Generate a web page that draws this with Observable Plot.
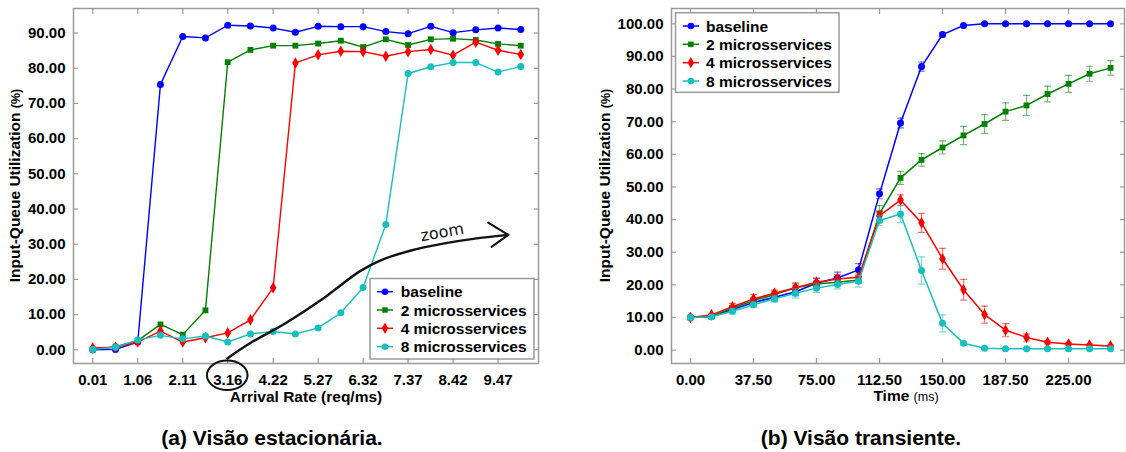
<!DOCTYPE html>
<html>
<head>
<meta charset="utf-8">
<script src="https://cdn.jsdelivr.net/npm/d3@7"></script>
<script src="https://cdn.jsdelivr.net/npm/@observablehq/plot@0.6"></script>
<style>
  body { margin: 0; background: #fff; font-family: "Liberation Sans", Arial, sans-serif; }
  #wrap { position: relative; width: 1126px; height: 452px; overflow: hidden; background: #fff; }
  .panel { position: absolute; top: 0; }
  .cap { position: absolute; top: 426px; font-weight: bold; font-size: 21px; line-height: 24px;
         transform: translateX(-50%); white-space: nowrap; color: #000; }
</style>
</head>
<body>
<div id="wrap">
  <div class="panel" id="left" style="left:0px"></div>
  <div class="panel" id="right" style="left:560px"></div>
  <div class="cap" style="left:272px">(a) Visão estacionária.</div>
  <div class="cap" style="left:861px">(b) Visão transiente.</div>
</div>
<script>
// ---------- shared ----------
const seriesNames = ["baseline", "2 microsservices", "4 microsservices", "8 microsservices"];
const seriesColors = ["#0000ff", "#008000", "#ff0000", "#17bfbf"];
const seriesSymbols = ["circle", "square", "diamond", "circle"];

// ---------- (a) steady state ----------
const arrivalRate = [0.01, 0.54, 1.06, 1.59, 2.11, 2.64, 3.16, 3.69, 4.22, 4.74,
                     5.27, 5.80, 6.32, 6.85, 7.37, 7.90, 8.42, 8.95, 9.47, 10.00];
const rateTickLabels = ["0.01", "1.06", "2.11", "3.16", "4.22", "5.27", "6.32", "7.37", "8.42", "9.47"];
const leftYTicks = [0, 10, 20, 30, 40, 50, 60, 70, 80, 90];

const ssBaseline = [0.0, 0.1, 2.2, 75.4, 89.0, 88.6, 92.2, 92.0, 91.4, 90.2,
                    91.9, 91.8, 91.8, 90.4, 89.8, 91.9, 90.1, 90.9, 91.4, 91.0];
const ss2 = [0.1, 0.9, 2.6, 7.2, 4.3, 11.2, 81.7, 85.2, 86.4, 86.4,
             87.0, 87.8, 86.0, 88.2, 86.6, 88.2, 88.4, 88.0, 86.9, 86.4];
const ss4 = [0.5, 0.7, 2.2, 5.3, 2.2, 3.4, 4.8, 8.5, 17.6, 81.5,
             83.8, 84.8, 84.7, 83.4, 84.7, 85.3, 83.7, 87.4, 85.1, 83.9];
const ss8 = [0.1, 0.7, 2.8, 4.1, 3.1, 3.9, 2.2, 4.5, 5.2, 4.5,
             6.2, 10.5, 17.7, 35.6, 78.5, 80.4, 81.6, 81.6, 78.9, 80.5];

// hand-drawn "zoom" annotation, in (req/ms, %) units
const zoomCurve = [[3.16, -2.6], [3.69, 1.7], [4.52, 7.4], [5.35, 14.0], [6.26, 22.2],
                   [6.73, 25.2], [7.43, 28.0], [8.20, 30.0], [8.98, 31.5], [9.72, 32.5]];
const zoomHead = [[9.25, 36.0], [9.72, 32.5], [9.33, 29.1]];
const zoomLabelAt = [8.18, 33.0];
const zoomCircleTick = 3.16;

// ---------- (b) transient ----------
const timeMs = [0, 12.5, 25, 37.5, 50, 62.5, 75, 87.5, 100, 112.5, 125,
                137.5, 150, 162.5, 175, 187.5, 200, 212.5, 225, 237.5, 250];
const timeTicks = [0, 37.5, 75, 112.5, 150, 187.5, 225];
const rightYTicks = [0, 10, 20, 30, 40, 50, 60, 70, 80, 90, 100];

const trBaseline = [10.0, 10.3, 12.5, 14.6, 16.2, 17.9, 20.5, 22.1, 24.6, 47.9, 69.6,
                    86.9, 96.7, 99.5, 100, 100, 100, 100, 100, 100, 100];
const trBaselineErr = [0.3, 0.4, 0.7, 0.9, 1.0, 1.2, 1.5, 1.8, 1.9, 1.5, 1.5,
                       1.4, 0.7, 0.3, 0.1, 0.1, 0.1, 0.1, 0.1, 0.1, 0.1];
const tr2 = [10.0, 10.3, 12.9, 15.2, 17.0, 19.1, 20.3, 20.8, 21.5, 41.8, 52.8,
             58.3, 62.1, 65.8, 69.3, 73.1, 75.0, 78.5, 81.6, 84.7, 86.5];
const tr2Err = [0.3, 0.5, 0.8, 1.0, 1.0, 1.2, 0.9, 1.0, 1.0, 2.5, 2.0,
                1.9, 2.0, 2.8, 2.9, 2.7, 3.1, 2.4, 2.6, 2.3, 2.2];
const tr4 = [10.0, 10.8, 13.3, 15.7, 17.4, 19.1, 20.8, 21.8, 22.3, 41.2, 46.0,
             39.0, 28.0, 18.5, 10.9, 6.1, 3.9, 2.4, 1.9, 1.6, 1.3];
const tr4Err = [0.3, 0.5, 1.0, 1.4, 1.0, 1.5, 1.3, 1.4, 1.1, 1.5, 1.6,
                2.9, 3.2, 3.2, 2.6, 2.0, 1.1, 0.5, 0.4, 0.3, 0.3];
const tr8 = [10.0, 10.2, 11.9, 13.9, 15.7, 17.4, 19.0, 20.1, 21.1, 39.7, 41.7,
             24.4, 8.2, 2.1, 0.6, 0.4, 0.4, 0.4, 0.4, 0.4, 0.4];
const tr8Err = [0.3, 0.4, 0.8, 0.8, 1.0, 1.4, 1.4, 1.3, 1.8, 1.5, 2.6,
                4.2, 2.6, 0.5, 0.2, 0.2, 0.2, 0.2, 0.2, 0.2, 0.2];

// ---------- helpers ----------
const FONT = "'Liberation Sans', Arial, Helvetica, sans-serif";
const FRAME = "#9a9a9a";
const fmt2 = d => d.toFixed(2);
const capShape = { draw(ctx, l) { ctx.moveTo(-l / 2, 0); ctx.lineTo(l / 2, 0); } };

function innerTicks(xt, yt) {
  const o = { tickSize: -5, tickFormat: () => "", label: null, stroke: FRAME, strokeWidth: 1.2 };
  return [
    Plot.axisX(xt, { anchor: "bottom", ...o }),
    Plot.axisX(xt, { anchor: "top", ...o }),
    Plot.axisY(yt, { anchor: "left", ...o }),
    Plot.axisY(yt, { anchor: "right", ...o })
  ];
}

function seriesMarks(xs, ys, k, opts = {}) {
  const rows = xs.map((x, i) => ({ x, y: ys[i], e: opts.err ? opts.err[i] : 0 }));
  const c = seriesColors[k];
  const marks = [];
  if (opts.err) {
    marks.push(
      Plot.ruleX(rows, { x: "x", y1: d => d.y - d.e, y2: d => d.y + d.e, stroke: c, strokeOpacity: 0.55, strokeWidth: 1.2 }),
      Plot.vector(rows, { x: "x", y: d => d.y + d.e, length: 6, shape: capShape, anchor: "start", stroke: c, strokeOpacity: 0.55, strokeWidth: 1.2 }),
      Plot.vector(rows, { x: "x", y: d => d.y - d.e, length: 6, shape: capShape, anchor: "start", stroke: c, strokeOpacity: 0.55, strokeWidth: 1.2 })
    );
  }
  const sym = seriesSymbols[k];
  marks.push(
    Plot.line(rows, { x: "x", y: "y", stroke: c, strokeWidth: opts.lw || 1.5 }),
    Plot.dot(rows, { x: "x", y: "y", fill: c, stroke: "none", symbol: sym,
                     r: sym === "square" ? 3.3 : sym === "diamond" ? 3.5 : 3.5 })
  );
  return marks;
}

function addYLabel(svg, cx, cy) {
  const t = d3.select(svg).append("text")
    .attr("transform", `translate(${cx},${cy}) rotate(-90)`)
    .attr("text-anchor", "middle").attr("dy", "0.35em")
    .style("font-family", FONT).style("font-weight", "bold").attr("fill", "#000");
  t.append("tspan").attr("font-size", 15.5).text("Input-Queue Utilization ");
  t.append("tspan").attr("font-size", 12.5).text("(%)");
}

function addXLabel(svg, cx, baseline, main, small) {
  const t = d3.select(svg).append("text")
    .attr("x", cx).attr("y", baseline).attr("text-anchor", "middle")
    .style("font-family", FONT).style("font-weight", "bold").attr("fill", "#000");
  t.append("tspan").attr("font-size", 15.5).text(main);
  if (small) t.append("tspan").attr("font-size", 12.5).attr("font-weight", "normal").text(small);
}

function addLegend(svg, box, rowsY, lineX0, lineX1, textX) {
  const g = d3.select(svg).append("g").attr("text-anchor", "start");
  g.append("rect").attr("x", box[0]).attr("y", box[1]).attr("width", box[2]).attr("height", box[3])
    .attr("fill", "#fff").attr("stroke", FRAME).attr("stroke-width", 1.5);
  const d3sym = { circle: d3.symbolCircle, square: d3.symbolSquare, diamond: d3.symbolDiamond };
  seriesNames.forEach((name, k) => {
    const y = rowsY[k];
    g.append("line").attr("x1", lineX0).attr("x2", lineX1).attr("y1", y).attr("y2", y)
      .attr("stroke", seriesColors[k]).attr("stroke-width", 1.5);
    const size = seriesSymbols[k] === "square" ? 30 : seriesSymbols[k] === "diamond" ? 36 : 34;
    g.append("path").attr("transform", `translate(${(lineX0 + lineX1) / 2},${y})`)
      .attr("d", d3.symbol(d3sym[seriesSymbols[k]], size)()).attr("fill", seriesColors[k]);
    g.append("text").attr("x", textX).attr("y", y).attr("dy", "0.36em")
      .attr("text-anchor", "start")
      .style("font-family", FONT).style("font-weight", "bold").style("font-size", "15.5px")
      .attr("fill", "#000").text(name);
  });
}

const baseStyle = { fontFamily: FONT, fontSize: "15px", fontWeight: "bold", color: "#000", background: "transparent" };

// ---------- chart (a) ----------
const rateTicks = rateTickLabels.map(Number);
const leftPlot = Plot.plot({
  width: 560, height: 410,
  marginLeft: 73, marginRight: 22, marginTop: 8, marginBottom: 47,
  style: baseStyle,
  x: { domain: [-0.44, 10.414] },
  y: { domain: [-3.9, 96.96] },
  marks: [
    Plot.frame({ stroke: FRAME, strokeWidth: 1.5 }),
    ...innerTicks(rateTicks, leftYTicks),
    Plot.axisX(rateTicks, { anchor: "bottom", tickSize: 0, tickPadding: 11, tickFormat: (d, i) => rateTickLabels[i], label: null }),
    Plot.axisY(leftYTicks, { anchor: "left", tickSize: 0, tickPadding: 8, tickFormat: fmt2, label: null }),
    ...seriesMarks(arrivalRate, ssBaseline, 0, { lw: 1.4 }),
    ...seriesMarks(arrivalRate, ss2, 1, { lw: 1.4 }),
    ...seriesMarks(arrivalRate, ss4, 2, { lw: 1.4 }),
    ...seriesMarks(arrivalRate, ss8, 3, { lw: 1.4 })
  ]
});
document.getElementById("left").appendChild(leftPlot);
addYLabel(leftPlot, 15, 185.5);
addXLabel(leftPlot, 306, 401.5, "Arrival Rate (req/ms)");
addLegend(leftPlot, [370, 278.5, 164, 80.5], [291.7, 310, 328.3, 346.7], 377, 393, 400.7);

// zoom annotation (positioned through the chart's own scales)
{
  const sx = leftPlot.scale("x"), sy = leftPlot.scale("y");
  const g = d3.select(leftPlot).append("g").attr("fill", "none").attr("stroke", "#111")
    .attr("stroke-width", 2.4).attr("stroke-linecap", "round").attr("stroke-linejoin", "round");
  const ln = d3.line().x(d => sx.apply(d[0])).y(d => sy.apply(d[1]));
  g.append("path").attr("d", ln.curve(d3.curveCatmullRom)(zoomCurve));
  g.append("path").attr("d", d3.line().x(d => sx.apply(d[0])).y(d => sy.apply(d[1]))(zoomHead)).attr("stroke-width", 2);
  g.append("ellipse").attr("cx", sx.apply(zoomCircleTick)).attr("cy", 375.3).attr("rx", 20.3).attr("ry", 14.7)
    .attr("stroke-width", 2);
  d3.select(leftPlot).append("text")
    .attr("transform", `translate(${sx.apply(zoomLabelAt[0])},${sy.apply(zoomLabelAt[1])}) rotate(-10)`)
    .attr("text-anchor", "middle").attr("dy", "0.27em")
    .style("font-family", "'DejaVu Sans', sans-serif").style("font-size", "16px").style("font-weight", "normal")
    .attr("fill", "#111").text("zoom");
}

// ---------- chart (b) ----------
const rightPlot = Plot.plot({
  width: 566, height: 410,
  marginLeft: 111, marginRight: 2, marginTop: 8, marginBottom: 47,
  style: baseStyle,
  x: { domain: [-11.3, 258.3] },
  y: { domain: [-4.1, 104.7] },
  marks: [
    Plot.frame({ stroke: FRAME, strokeWidth: 1.5 }),
    ...innerTicks(timeTicks, rightYTicks),
    Plot.axisX(timeTicks, { anchor: "bottom", tickSize: 0, tickPadding: 11, tickFormat: fmt2, label: null }),
    Plot.axisY(rightYTicks, { anchor: "left", tickSize: 0, tickPadding: 8, tickFormat: fmt2, label: null }),
    ...seriesMarks(timeMs, trBaseline, 0, { err: trBaselineErr }),
    ...seriesMarks(timeMs, tr2, 1, { err: tr2Err }),
    ...seriesMarks(timeMs, tr4, 2, { err: tr4Err }),
    ...seriesMarks(timeMs, tr8, 3, { err: tr8Err })
  ]
});
document.getElementById("right").appendChild(rightPlot);
addYLabel(rightPlot, 45, 185.5);
addXLabel(rightPlot, 346, 401, "Time ", "(ms)");
addLegend(rightPlot, [115.5, 12.7, 163.5, 79.6], [26, 44.3, 62.7, 81], 122.7, 139, 146);
</script>
</body>
</html>
